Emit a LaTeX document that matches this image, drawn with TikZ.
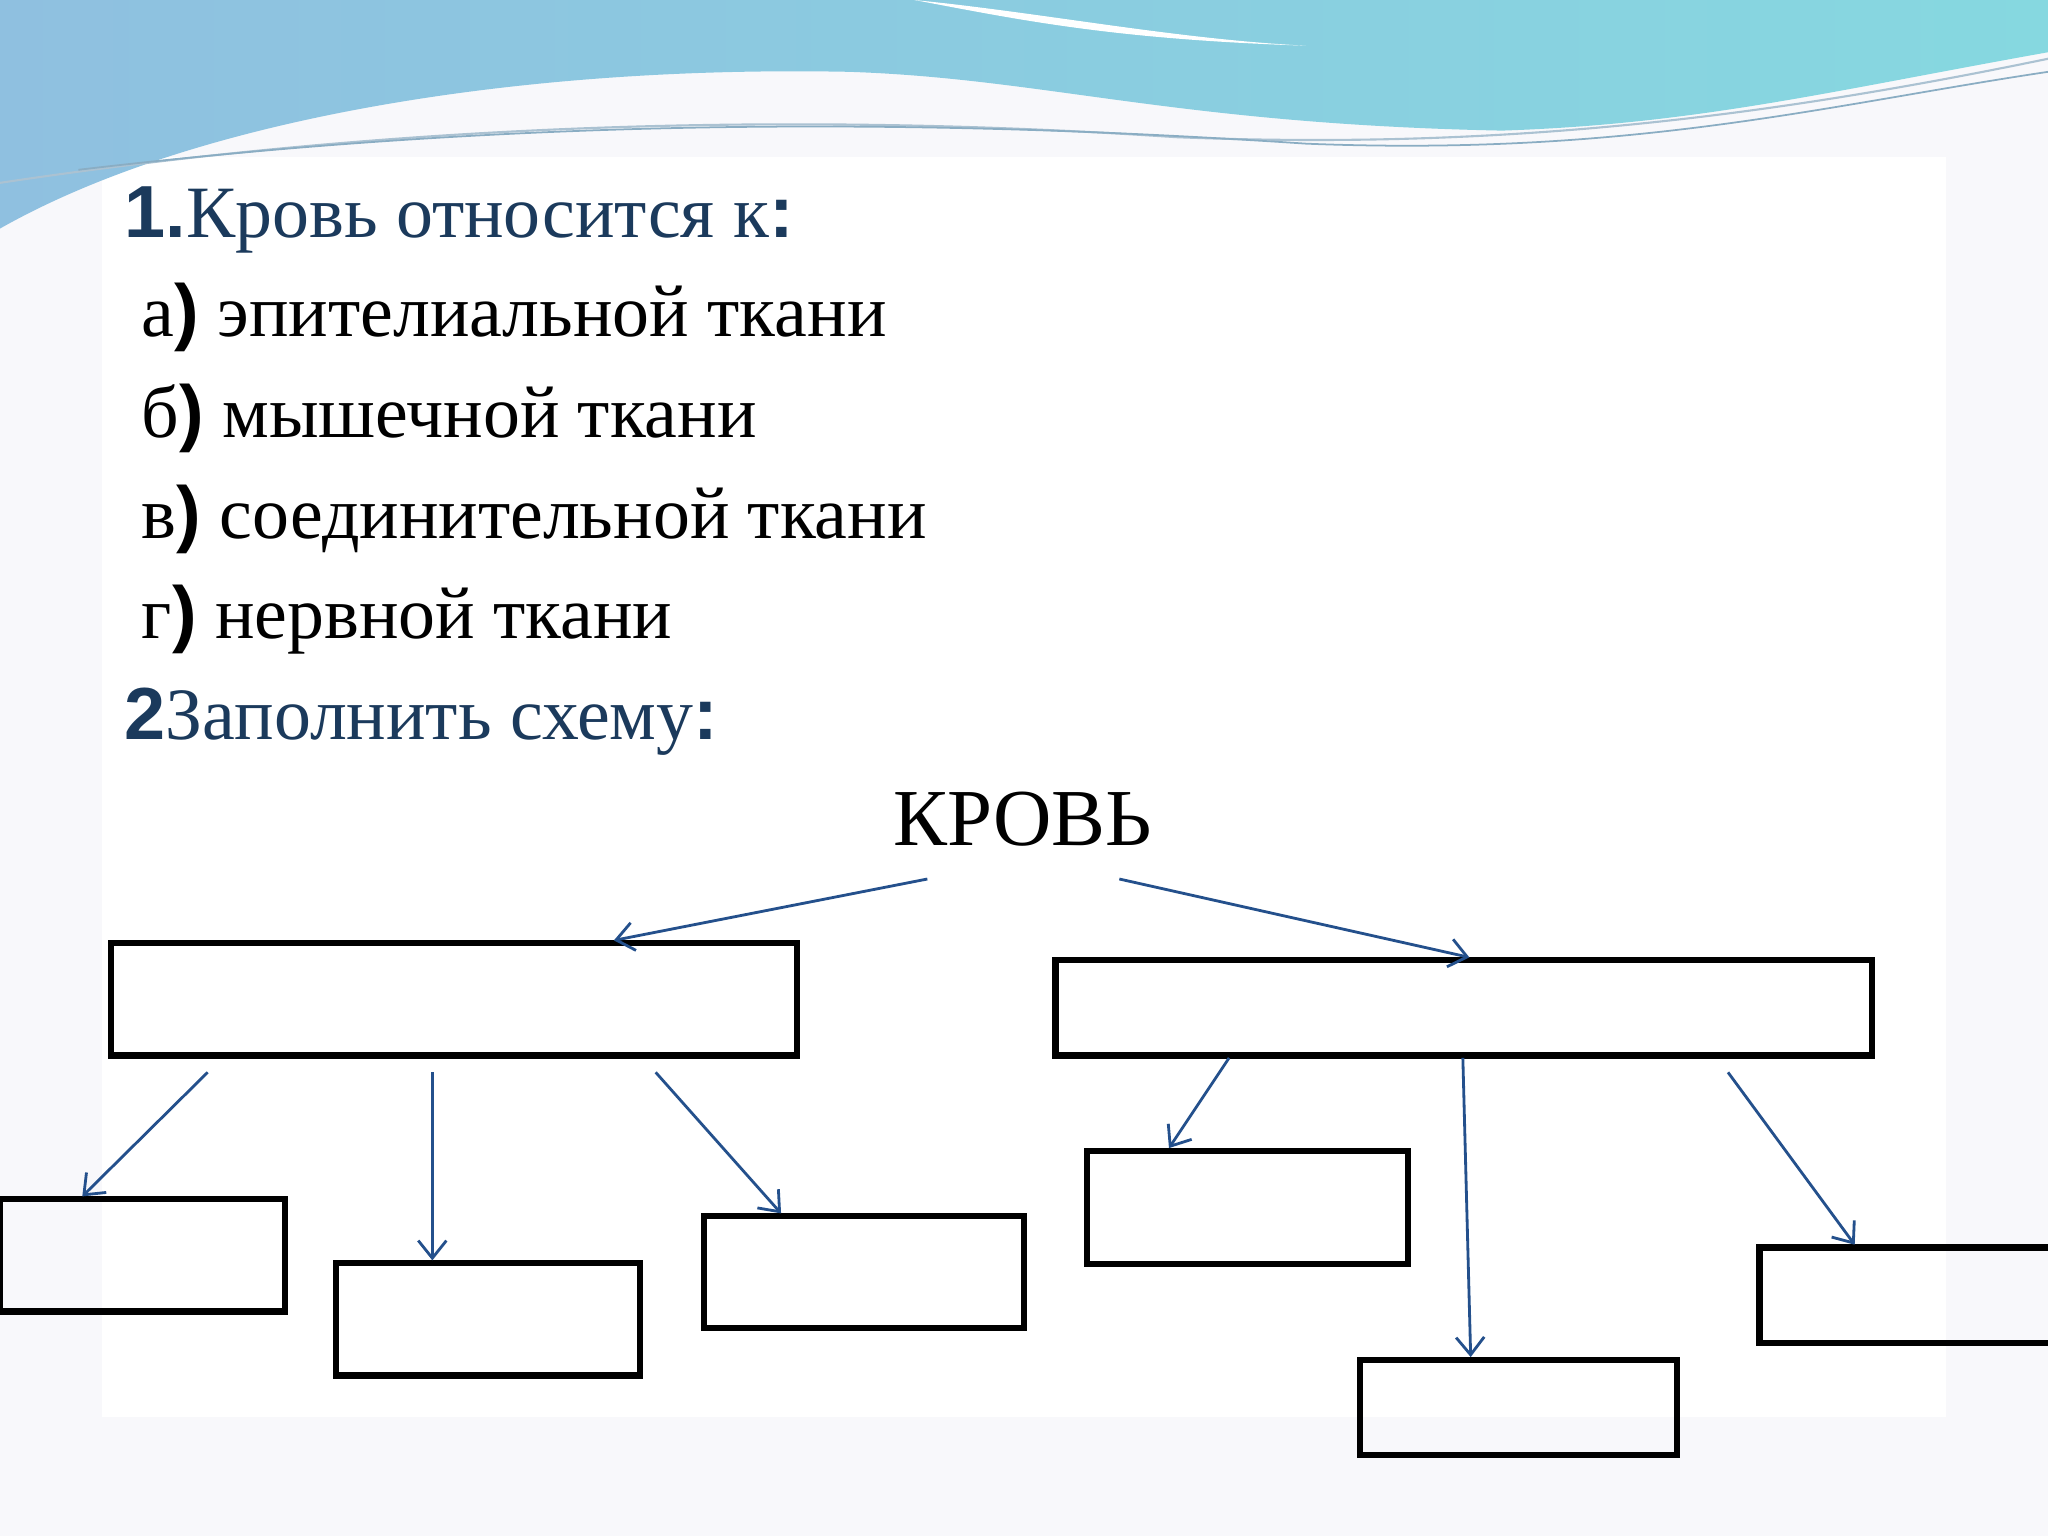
\documentclass[tikz,border=0pt]{standalone}
\usepackage{fontspec}
\setmainfont{Liberation Serif}
\newfontfamily\gs{Liberation Sans}
\usetikzlibrary{arrows.meta}
\definecolor{navy}{HTML}{1B3A5C}
\definecolor{arr}{HTML}{24508C}
\definecolor{bg}{HTML}{F8F8FB}
\definecolor{wl}{HTML}{8FC0E0}
\definecolor{wr}{HTML}{86D8E0}
\begin{document}
\begin{tikzpicture}[x=0.01306cm,y=-0.01306cm,
  box/.style={draw=black,line width=1.8pt},
  con/.style={draw=arr,line width=0.8pt,-{Straight Barb[length=5pt,width=8pt]}},
  txt/.style={anchor=base west,inner sep=0pt,font=\fontsize{21}{25}\selectfont}]
\useasboundingbox (0,0) rectangle (1568,1176);
\fill[bg] (0,0) rectangle (1568,1176);
\fill[white] (78,120) rectangle (1490,1085);
% wave
\shade[left color=wl, right color=wr] (0,0) -- (1568,0) -- (1568,40)
  .. controls (1400,70) and (1300,95) .. (1150,100)
  .. controls (900,95) and (800,60) .. (650,55)
  .. controls (400,50) and (150,90) .. (0,175) -- cycle;
\fill[white] (700,0) .. controls (800,10) and (900,30) .. (1000,35) .. controls (850,30) and (780,15) .. (700,0);
\draw[wl!80!black!60,line width=0.6pt] (0,140) .. controls (300,95) and (600,85) .. (900,105) .. controls (1150,115) and (1350,90) .. (1568,45);
\draw[wl!70!gray,line width=0.5pt] (60,130) .. controls (400,90) and (700,90) .. (1000,110) .. controls (1250,120) and (1400,80) .. (1568,55);
% texts
\node[txt,text=navy] (t1) at (95,182) {{\gs\bfseries 1.}Кровь относится к{\gs\bfseries :}};
\node[txt] (a) at (108,258) {а{\gs\bfseries )} эпителиальной ткани};
\node[txt] (b) at (108,335) {б{\gs\bfseries )} мышечной ткани};
\node[txt] (c) at (108,412) {в{\gs\bfseries )} соединительной ткани};
\node[txt] (d) at (108,489) {г{\gs\bfseries )} нервной ткани};
\node[txt,text=navy] (t2) at (95,566) {{\gs\bfseries 2}Заполнить схему{\gs\bfseries :}};
\node[anchor=base,inner sep=0pt,font=\fontsize{23}{27}\selectfont] (k) at (783,647) {КРОВЬ};
% boxes
\draw[box] (85,722) rectangle (610,808);
\draw[box] (808,735) rectangle (1433,808);
\draw[box] (0,918) rectangle (218,1004);
\draw[box] (257,967) rectangle (490,1053);
\draw[box] (539,931) rectangle (784,1017);
\draw[box] (832,881) rectangle (1078,968);
\draw[box] (1041,1041) rectangle (1284,1114);
\draw[box] (1347,955) rectangle (1580,1028);
% arrow endpoints
\foreach \n/\x/\y in {s1/710/673,e1/470/720,s2/857/673,e2/1125/733,s3/159/821,e3/63/916,s4/331/821,e4/331/965,s5/502/821,e5/598/929,s6/941/810,e6/895/879,s7/1120/810,e7/1126/1039,s8/1323/821,e8/1420/953}
  \coordinate (\n) at (\x,\y);
\foreach \i in {1,...,8} \draw[con] (s\i) -- (e\i);
\end{tikzpicture}
\end{document}
